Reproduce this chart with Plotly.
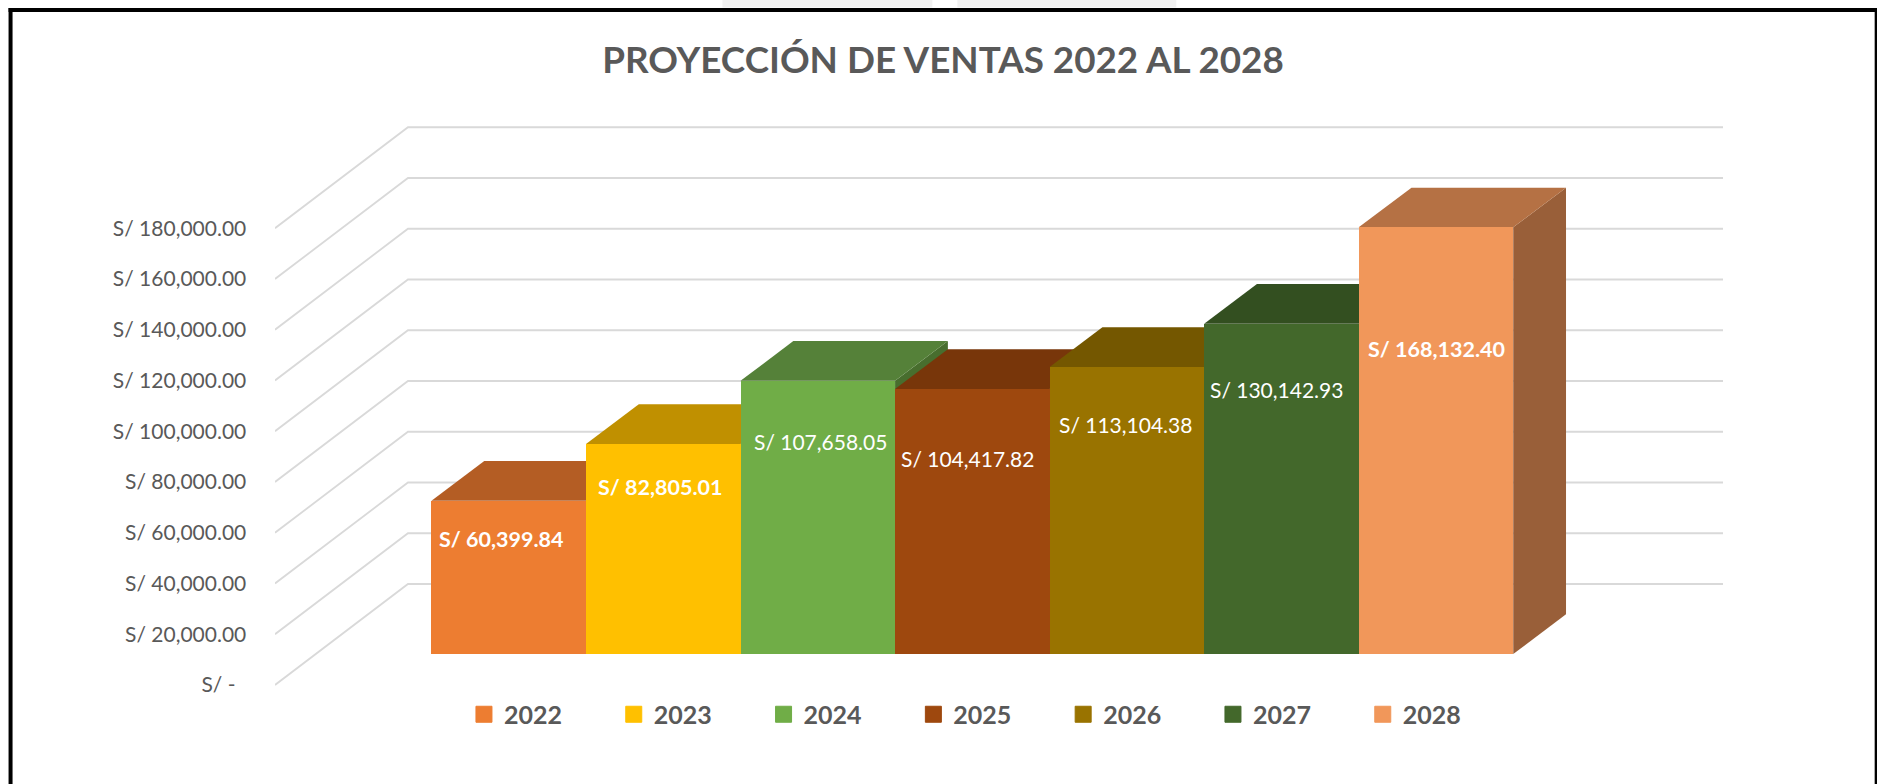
import plotly.graph_objects as go

# ---- data ----
YEARS = [2022, 2023, 2024, 2025, 2026, 2027, 2028]
SALES = [60399.84, 82805.01, 107658.05, 104417.82, 113104.38, 130142.93, 168132.40]
LABELS = ["S/ 60,399.84", "S/ 82,805.01", "S/ 107,658.05", "S/ 104,417.82",
          "S/ 113,104.38", "S/ 130,142.93", "S/ 168,132.40"]
LABEL_BOLD = [True, True, False, False, False, False, True]
TICK_VALUES = [0, 20000, 40000, 60000, 80000, 100000, 120000, 140000, 160000, 180000]
TICK_LABELS = ["S/ -\u00a0\u00a0", "S/ 20,000.00", "S/ 40,000.00", "S/ 60,000.00", "S/ 80,000.00",
               "S/ 100,000.00", "S/ 120,000.00", "S/ 140,000.00", "S/ 160,000.00", "S/ 180,000.00"]
FRONT = ["#ED7D31", "#FFC000", "#70AD47", "#9E480E", "#997300", "#43682B", "#F1975A"]
TOP = ["#B45D24", "#C09000", "#558139", "#78360A", "#745700", "#334F20", "#B57144"]
SIDE = ["#98501F", "#A37B00", "#486E2E", "#652E09", "#624A00", "#2B4319", "#995F39"]
TITLE = "PROYECCIÓN DE VENTAS 2022 AL 2028"

# ---- layout geometry (pixels of the 1877x784 page) ----
W, H = 1877, 784
PLOT_L, PLOT_R, PLOT_T, PLOT_B = 274.5, 1722.8, 100.0, 695.0
PX_PER_VALUE = 50.75 / 20000          # vertical scale
PX_PER_YEAR = 154.57
BAR_LEFT_PX = 431.0                   # left edge of first bar
FRONT_ZERO_PX = 685.0                 # value 0 on the label axis
BAR_ZERO_PX = 654.0                   # value 0 on the bar plane
WALL_DX, WALL_DY = 133.0, 101.0       # floor depth of the wall
BAR_DX, BAR_DY = 52.8, 39.7           # depth of each bar
FONT = "Lato"
GREY = "#595959"


def x_at(px):
    return YEARS[0] - 0.5 + (px - BAR_LEFT_PX) / PX_PER_YEAR


xrange_ = [x_at(PLOT_L), x_at(PLOT_R)]
y1range = [(FRONT_ZERO_PX - PLOT_B) / PX_PER_VALUE, (FRONT_ZERO_PX - PLOT_T) / PX_PER_VALUE]
y2range = [(BAR_ZERO_PX - PLOT_B) / PX_PER_VALUE, (BAR_ZERO_PX - PLOT_T) / PX_PER_VALUE]
bar_dx = BAR_DX / PX_PER_YEAR
bar_dv = BAR_DY / PX_PER_VALUE

fig = go.Figure()

# walls: one polyline per axis tick, on the label axis
wall_dx = WALL_DX / PX_PER_YEAR
wall_dv = WALL_DY / PX_PER_VALUE
for v in TICK_VALUES:
    fig.add_trace(go.Scatter(
        x=[xrange_[0], xrange_[0] + wall_dx, xrange_[1]],
        y=[v, v + wall_dv, v + wall_dv],
        mode="lines", line=dict(color="#D9D9D9", width=1.8),
        showlegend=False, hoverinfo="skip", yaxis="y", cliponaxis=False,
    ))

# bars in painter's order: top and side, then front
z = 1
for yr, val, fc, tc, sc in zip(YEARS, SALES, FRONT, TOP, SIDE):
    l, r = yr - 0.5, yr + 0.5
    fig.add_trace(go.Scatter(
        x=[r, r + bar_dx, r + bar_dx, r, r], y=[0, bar_dv, val + bar_dv, val, 0],
        mode="lines", fill="toself", fillcolor=sc, line=dict(width=0),
        showlegend=False, hoverinfo="skip", yaxis="y2", zorder=z, cliponaxis=False))
    fig.add_trace(go.Scatter(
        x=[l, r, r + bar_dx, l + bar_dx, l], y=[val, val, val + bar_dv, val + bar_dv, val],
        mode="lines", fill="toself", fillcolor=tc, line=dict(width=0),
        showlegend=False, hoverinfo="skip", yaxis="y2", zorder=z + 1, cliponaxis=False))
    fig.add_trace(go.Bar(
        x=[yr], y=[val], width=1, marker=dict(color=fc, line=dict(width=0)),
        name=str(yr), showlegend=False, yaxis="y2", zorder=z + 2))
    z += 3

# legend entries
for yr, fc in zip(YEARS, FRONT):
    fig.add_trace(go.Scatter(
        x=[None], y=[None], mode="markers", name=str(yr), yaxis="y2",
        marker=dict(symbol="square", size=16, color=fc, line=dict(width=1, color=fc))))

# data labels anchored on each bar's top
LABEL_SHIFT_X = [-7.5, -3.5, 3, -5, -1.5, -4.5, 1]
LABEL_SHIFT_Y = [-38, -43, -61, -69, -57, -66, -122]
for yr, val, txt, bold, dx, dy in zip(YEARS, SALES, LABELS, LABEL_BOLD, LABEL_SHIFT_X, LABEL_SHIFT_Y):
    fig.add_annotation(
        x=yr, y=val, xref="x", yref="y2", text=f"<b>{txt}</b>" if bold else txt,
        showarrow=False, xshift=dx, yshift=dy,
        font=dict(family=FONT, size=21.5 if bold else 21, color="#FFFFFF"))


def px(xp):
    return (xp - PLOT_L) / (PLOT_R - PLOT_L)


def py(yp):
    return (PLOT_B - yp) / (PLOT_B - PLOT_T)


frame = dict(type="line", xref="paper", yref="paper", line=dict(color="#000000", width=4))
smudge = dict(type="rect", xref="paper", yref="paper", fillcolor="#F1F1F1", line=dict(width=0), layer="below")
shapes = [
    dict(smudge, x0=px(722), x1=px(932), y0=py(0), y1=py(7.5)),
    dict(smudge, x0=px(957), x1=px(1176), y0=py(0), y1=py(7.5)),
    dict(frame, x0=px(10), x1=px(10), y0=py(8), y1=py(790)),
    dict(frame, x0=px(8), x1=px(1880), y0=py(10), y1=py(10)),
    dict(frame, x0=px(1876.5), x1=px(1876.5), y0=py(8), y1=py(790)),
]

fig.update_layout(
    width=W, height=H, autosize=False,
    margin=dict(l=PLOT_L, r=W - PLOT_R, t=PLOT_T, b=H - PLOT_B, pad=0),
    paper_bgcolor="#FFFFFF", plot_bgcolor="rgba(0,0,0,0)",
    barmode="overlay", bargap=0, hovermode=False,
    shapes=shapes,
    title=dict(text=f"<b>{TITLE}</b>", x=943 / W, xref="container", xanchor="center",
               y=1 - 60 / H, yref="container", yanchor="middle",
               font=dict(family=FONT, size=36.8, color=GREY)),
    xaxis=dict(range=xrange_, visible=False, fixedrange=True),
    yaxis=dict(range=y1range, tickmode="array", tickvals=TICK_VALUES, ticktext=TICK_LABELS,
               showgrid=False, zeroline=False, showline=False, ticks="outside", ticklen=23.5,
               tickcolor="rgba(0,0,0,0)", tickfont=dict(family=FONT, size=21, color=GREY),
               fixedrange=True),
    yaxis2=dict(range=y2range, overlaying="y", side="right", visible=False, fixedrange=True),
    legend=dict(orientation="h", xref="paper", yref="paper",
                x=px(463.5), xanchor="left", y=py(714.5), yanchor="middle",
                traceorder="normal", entrywidth=104.8, entrywidthmode="pixels",
                font=dict(family=FONT, size=25, color=GREY, weight="bold"),
                itemclick=False, itemdoubleclick=False, bgcolor="rgba(0,0,0,0)"),
)

fig.write_html("out.html", config={"displayModeBar": False},
               post_script="document.body.style.margin='0';document.documentElement.style.overflow='hidden';")
